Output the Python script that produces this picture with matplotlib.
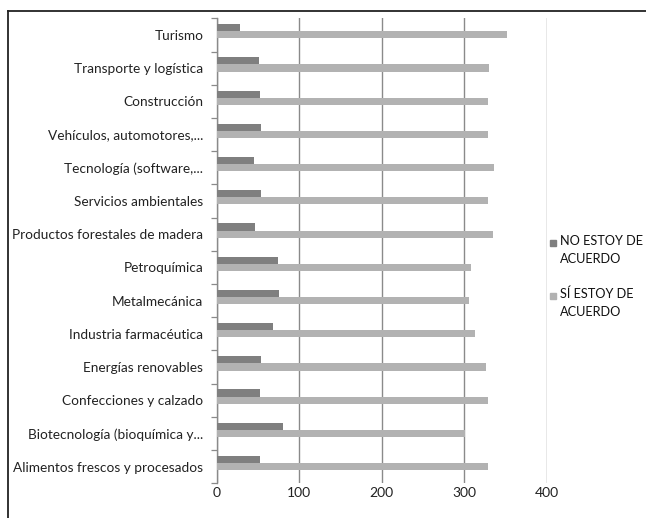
import numpy as np
import matplotlib
matplotlib.use("Agg")
import matplotlib.pyplot as plt
from matplotlib.patches import Rectangle
from matplotlib.lines import Line2D

plt.rcParams['font.family'] = ['Lato', 'DejaVu Sans']

#----- DATA --------------------------------------------------------
categories = [
    "Alimentos frescos y procesados",
    "Biotecnología (bioquímica y...",
    "Confecciones y calzado",
    "Energías renovables",
    "Industria farmacéutica",
    "Metalmecánica",
    "Petroquímica",
    "Productos forestales de madera",
    "Servicios ambientales",
    "Tecnología (software,...",
    "Vehículos, automotores,...",
    "Construcción",
    "Transporte y logística",
    "Turismo",
]
no_acuerdo = [53, 80, 53, 54, 68, 76, 74, 47, 54, 45, 54, 53, 52, 29]
si_acuerdo = [329, 301, 329, 326, 313, 305, 308, 335, 328, 336, 328, 329, 330, 352]
series_labels = ["NO ESTOY DE\nACUERDO", "SÍ ESTOY DE\nACUERDO"]
xticks = [0, 100, 200, 300, 400]

dark = "#7f7f7f"
light = "#b2b2b2"
grid_c = "#8a8a8a"

#----- FIGURE ------------------------------------------------------
fig = plt.figure(figsize=(6.46, 5.18), dpi=100)
ax = fig.add_axes([216.5 / 646, 1 - 483.3 / 518, (547 - 216.5) / 646, (483.3 - 18.3) / 518])

y = np.arange(len(categories))
h = 0.215
shift = 0.11
ax.barh(y + shift + h / 2, no_acuerdo, height=h, color=dark, zorder=3)
ax.barh(y + shift - h / 2, si_acuerdo, height=h, color=light, zorder=3)

ax.set_xlim(0, 400)
ax.set_ylim(-0.5, len(categories) - 0.5)
ax.set_xticks(xticks)
ax.set_xticklabels([str(t) for t in xticks], fontsize=10)
ax.set_yticks(y)
ax.set_yticklabels(categories, fontsize=9.8)
ax.set_yticks(np.arange(-0.5, len(categories), 1.0), minor=True)

ax.tick_params(axis='x', length=0, pad=3, colors='#222222')
ax.tick_params(axis='y', which='major', length=0, pad=9.5, colors='#222222')
ax.tick_params(axis='y', which='minor', length=4, width=0.9, color=grid_c)

for s in ['top', 'right', 'bottom']:
    ax.spines[s].set_visible(False)
ax.spines['left'].set_color(grid_c)
ax.spines['left'].set_linewidth(1.0)

ax.grid(axis='x', color=grid_c, linewidth=1.0, zorder=0)
ax.grid(axis='y', visible=False)

#----- LEGEND ------------------------------------------------------
for lbl, col, ty in zip(series_labels, [dark, light], [243, 296]):
    fig.patches.append(Rectangle((550 / 646, 1 - (ty + 3) / 518), 6 / 646, 6 / 518,
                                 transform=fig.transFigure, color=col, figure=fig))
    fig.text(560 / 646, 1 - (ty - 8) / 518, lbl, fontsize=9.2, va='top', ha='left',
             linespacing=1.6, color='#111111')

#----- OUTER FRAME -------------------------------------------------
fig.add_artist(Line2D([8 / 646, 1], [1 - 11 / 518, 1 - 11 / 518], transform=fig.transFigure,
                      color='#222222', linewidth=1.3))
fig.add_artist(Line2D([8 / 646, 8 / 646], [0, 1 - 11 / 518], transform=fig.transFigure,
                      color='#222222', linewidth=1.3))

fig.savefig("out.png", dpi=100)
